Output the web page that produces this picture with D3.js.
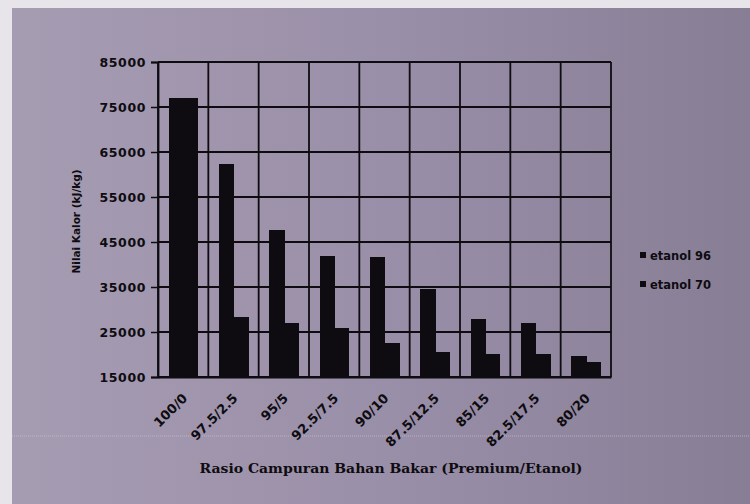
<!DOCTYPE html>
<html>
<head>
<meta charset="utf-8">
<script src="https://cdn.jsdelivr.net/npm/d3@7"></script>
<style>
html,body{margin:0;padding:0;background:#e6e3e8;}
svg{display:block;}
</style>
</head>
<body>
<svg id="chart" width="750" height="504"></svg>
<script>
const categories = ["100/0","97.5/2.5","95/5","92.5/7.5","90/10","87.5/12.5","85/15","82.5/17.5","80/20"];
const seriesNames = ["etanol 96","etanol 70"];
const etanol96 = [77000, 62300, 47700, 41900, 41600, 34600, 27800, 27100, 19700];
const etanol70 = [77000, 28400, 26900, 25800, 22500, 20600, 20100, 20100, 18300];
const yTicks = [15000, 25000, 35000, 45000, 55000, 65000, 75000, 85000];
const yTitle = "Nilai Kalor (kJ/kg)";
const xTitle = "Rasio Campuran Bahan Bakar (Premium/Etanol)";

(function () {
const svg = d3.select("#chart");
const W = 750, H = 504;

const defs = svg.append("defs");
const grad = defs.append("linearGradient").attr("id","bg").attr("x1","0").attr("x2","1").attr("y1","0").attr("y2","0");
grad.append("stop").attr("offset","0").attr("stop-color","#a69cb2");
grad.append("stop").attr("offset","0.5").attr("stop-color","#9a8fa8");
grad.append("stop").attr("offset","1").attr("stop-color","#877e96");
svg.append("rect").attr("x",0).attr("y",0).attr("width",W).attr("height",H).attr("fill","#e8e5ea");
svg.append("rect").attr("x",12).attr("y",8).attr("width",W-12).attr("height",H-8).attr("fill","url(#bg)");
svg.append("line").attr("x1",12).attr("x2",W).attr("y1",436).attr("y2",436)
  .attr("stroke","#c9c2d0").attr("stroke-width",1).attr("stroke-dasharray","1,1").attr("opacity",0.7);

const pLeft = 158, pRight = 611, pTop = 62, pBottom = 377;

const x = d3.scaleBand().domain(categories).range([pLeft, pRight]).paddingInner(0).paddingOuter(0);
const xs = d3.scaleBand().domain(seriesNames).range([0, x.bandwidth()]).paddingInner(0).paddingOuter(0.735);
const y = d3.scaleLinear().domain([15000, 85000]).range([pBottom, pTop]);

const ink = "#0e0c10";
const fontSans = "'DejaVu Sans', sans-serif";

svg.append("g").selectAll("line").data(yTicks).join("line")
  .attr("x1", pLeft).attr("x2", pRight)
  .attr("y1", d => y(d)).attr("y2", d => y(d))
  .attr("stroke", ink).attr("stroke-width", 1.8);

const bounds = categories.map(c => x(c)).concat([pRight]);
svg.append("g").selectAll("line").data(bounds).join("line")
  .attr("x1", d => d).attr("x2", d => d)
  .attr("y1", pTop).attr("y2", pBottom)
  .attr("stroke", ink).attr("stroke-width", 1.8);

const data = categories.map((c, i) => ({cat: c, vals: [
  {s: seriesNames[0], v: etanol96[i]},
  {s: seriesNames[1], v: etanol70[i]}
]}));
const g = svg.append("g").selectAll("g").data(data).join("g")
  .attr("transform", d => `translate(${x(d.cat)},0)`);
g.selectAll("rect").data(d => d.vals).join("rect")
  .attr("x", d => xs(d.s))
  .attr("width", xs.bandwidth() + 0.8)
  .attr("y", d => y(d.v))
  .attr("height", d => y(15000) - y(d.v))
  .attr("fill", ink)
  .attr("shape-rendering", "crispEdges");

const yAxis = d3.axisLeft(y).tickValues(yTicks).tickSize(7).tickPadding(5).tickFormat(d3.format("d"));
const ya = svg.append("g").attr("transform", `translate(${pLeft},0)`).call(yAxis);
ya.select(".domain").attr("stroke", ink).attr("stroke-width", 1.8);
ya.selectAll(".tick line").attr("stroke", ink).attr("stroke-width", 1.5);
ya.selectAll(".tick text").attr("fill", ink)
  .style("font-family", fontSans).style("font-weight", "bold").style("font-size", "12.5px")
  .attr("letter-spacing", "0.6");

const xAxis = d3.axisBottom(x).tickSize(0).tickPadding(0);
const xa = svg.append("g").attr("transform", `translate(0,${pBottom})`).call(xAxis);
xa.select(".domain").attr("stroke", ink).attr("stroke-width", 1.8);
xa.selectAll(".tick text")
  .attr("fill", ink)
  .style("font-family", fontSans).style("font-weight", "bold").style("font-size", "13px")
  .attr("text-anchor", "end")
  .attr("dy", "0")
  .attr("transform", "translate(5,22) rotate(-45)");

svg.append("text")
  .attr("transform", `translate(80,${(pTop + pBottom) / 2 + 2}) rotate(-90)`)
  .attr("text-anchor", "middle")
  .attr("fill", ink)
  .style("font-family", fontSans).style("font-weight", "bold").style("font-size", "10.5px")
  .text(yTitle);

svg.append("text")
  .attr("x", 391).attr("y", 473)
  .attr("text-anchor", "middle")
  .attr("textLength", 383)
  .attr("lengthAdjust", "spacingAndGlyphs")
  .attr("fill", ink)
  .style("font-family", "'DejaVu Serif', serif").style("font-weight", "bold").style("font-size", "13px")
  .text(xTitle);

const leg = svg.append("g").selectAll("g").data(seriesNames).join("g")
  .attr("transform", (d, i) => `translate(640,${256 + i * 29})`);
leg.append("rect").attr("x", 0).attr("y", -4).attr("width", 6).attr("height", 6).attr("fill", ink);
leg.append("text").attr("x", 10).attr("y", 0).attr("dy", "0.35em")
  .attr("fill", ink)
  .style("font-family", fontSans).style("font-weight", "bold").style("font-size", "11.5px")
  .text(d => d);
})();
</script>
</body>
</html>
